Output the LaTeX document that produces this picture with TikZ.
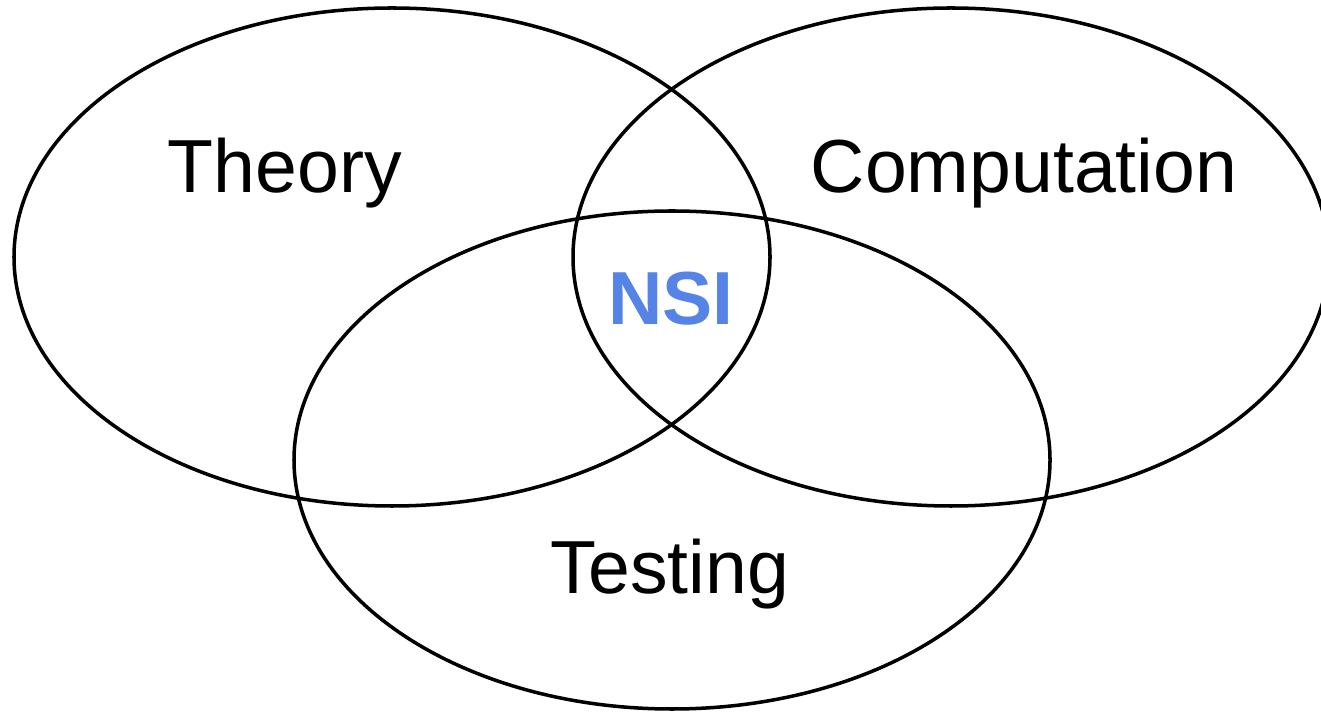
\documentclass[tikz,border=0pt]{standalone}
\usepackage{fontspec}
\setmainfont{Liberation Sans}
\definecolor{nsiblue}{RGB}{85,132,230}
\begin{document}
\begin{tikzpicture}[x=.02cm, y=.02cm]
	\clip (0,0) rectangle (1321,713);
	\fill[white] (0,0) rectangle (1321,713);
	
	\draw[line width=2pt] (392,456) ellipse [x radius=378, y radius=249];
	\draw[line width=2pt] (951,456) ellipse [x radius=378, y radius=249];
	\draw[line width=2pt] (672,253) ellipse [x radius=378, y radius=249];
	
	\node[anchor=base] (theory) at (285,520) {\fontsize{42.8}{52}\selectfont Theory};
	\node[anchor=base] (comp) at (1024,520) {\fontsize{42.8}{52}\selectfont Computation};
	\node[anchor=base] (test) at (670,119) {\fontsize{42.8}{52}\selectfont Testing};
	\node[anchor=base,nsiblue] (nsi) at (671,388) {\fontsize{42.8}{52}\selectfont\bfseries NSI};
\end{tikzpicture}
\end{document}
